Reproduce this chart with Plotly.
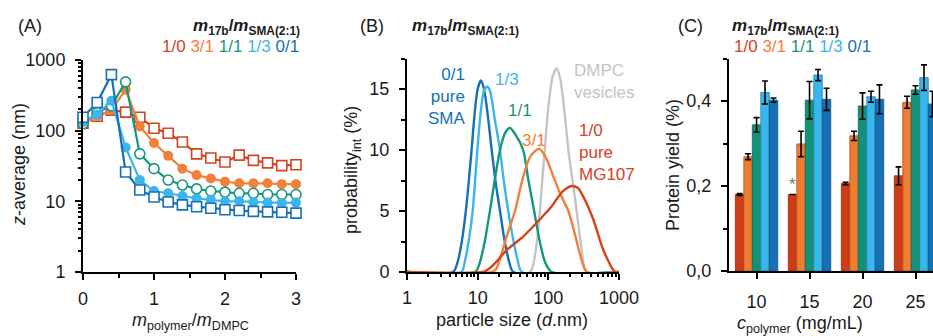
import plotly.graph_objects as go

W, H = 933, 336
FONT = "Arial, Liberation Sans, sans-serif"

# ---------------- Panel A data ----------------
ratio_A = [0.0, 0.2, 0.4, 0.6, 0.8, 1.0, 1.2, 1.4, 1.6, 1.8, 2.0, 2.2, 2.4, 2.6, 2.8, 3.0]
zavg_10 = [128, 160, 195, 183, 155, 108, 92, 69, 47, 41, 36, 45, 38, 35, 32, 33]
zavg_31 = [125, 160, 195, 380, 115, 67, 44, 29, 23.5, 21, 19, 18, 18, 18, 17.5, 17.5]
zavg_11 = [125, 180, 225, 490, 47, 29, 20, 17, 15, 14, 13.5, 13, 13, 12.5, 12.5, 12.5]
zavg_13 = [133, 170, 265, 58, 20, 14, 13, 11.9, 11, 10.5, 10, 10, 9.8, 9.6, 9.5, 9.6]
zavg_01 = [155, 250, 620, 26, 14.5, 11.5, 9.8, 8.9, 8.4, 8.0, 7.6, 7.4, 7.2, 7.1, 7.0, 6.8]

# ---------------- Panel B data ----------------
size_01 = [1, 4.5, 5.2, 6.0, 6.8, 7.5, 8.2, 9.0, 10.0, 11.1, 12.3, 13.8, 15.8, 18.0, 20.7, 24, 28, 32, 1000]
prob_01 = [0, 0, 0.8, 2.6, 5, 7.5, 10, 12.8, 15, 15.7, 15, 13, 10, 7.3, 5, 2.6, 0.8, 0, 0]
size_13 = [1, 5.9, 6.6, 7.5, 8.5, 9.2, 9.9, 11, 12.3, 13.7, 15, 17.5, 20.7, 23.5, 27.1, 32, 37, 42, 1000]
prob_13 = [0, 0, 0.9, 2.6, 5, 7.5, 10, 13, 14.9, 15.2, 14.8, 12.5, 10, 7.4, 5, 2.6, 0.9, 0, 0]
size_11 = [1, 9.2, 10.5, 12.5, 14.9, 17.5, 20.7, 24.5, 28.6, 34, 44, 52, 63, 75, 90, 112, 1000]
prob_11 = [0, 0, 0.6, 2.4, 5, 7.6, 10, 11.4, 11.8, 11.3, 10, 7.6, 5, 2.6, 0.8, 0, 0]
size_31 = [1, 16, 18.5, 21, 26, 33.8, 44, 56, 74, 92, 115, 145, 192, 240, 295, 350, 1000]
prob_31 = [0, 0, 0.3, 1.2, 3.0, 5.0, 7.8, 9.5, 10.1, 9.4, 8.0, 6.5, 5.0, 3.0, 1.0, 0, 0]
size_10 = [1, 12, 14, 18.5, 25.7, 44, 70, 105, 160, 213, 260, 311, 433, 600, 830, 900, 1000]
prob_10 = [0, 0, 0.2, 0.85, 1.8, 2.9, 4.1, 5.2, 6.6, 7.05, 6.9, 6.2, 4.3, 1.8, 0.16, 0, 0]
size_dm = [1, 55, 62, 70, 76, 82, 89, 100, 115, 131, 148, 170, 192, 220, 252, 290, 350, 1000]
prob_dm = [0, 0, 0.8, 2.8, 5, 7.5, 10, 13.5, 16, 16.7, 15.8, 13, 10, 7.5, 5, 2.2, 0, 0]

# ---------------- Panel C data ----------------
c_polymer = [10, 15, 20, 25]
yield_10 = [0.180, 0.180, 0.206, 0.224]
err_10 = [0.002, None, 0.003, 0.021]
yield_31 = [0.269, 0.299, 0.318, 0.397]
err_31 = [0.007, 0.030, 0.011, 0.014]
yield_11 = [0.344, 0.402, 0.388, 0.426]
err_11 = [0.017, 0.044, 0.031, 0.010]
yield_13 = [0.420, 0.461, 0.410, 0.455]
err_13 = [0.027, 0.013, 0.013, 0.030]
yield_01 = [0.402, 0.404, 0.404, 0.393]
err_01 = [0.005, 0.026, 0.034, 0.030]

ratio_labels = ["1/0", "3/1", "1/1", "1/3", "0/1"]

# colours
C_RED, C_ORA, C_GRN, C_LBL, C_DBL = "#d4421e", "#f0803a", "#15977d", "#3cb6ea", "#1670b5"
C_GRY = "#c4c4c4"
BAR_COLS = ["#cf3b14", "#ef7c30", "#13927a", "#39b6ec", "#1570b5"]
BAR_EDGE = ["#8e2a0e", "#a9561f", "#0d6655", "#2680a6", "#0e4e80"]


def px_x(p):
    return p / W


def px_y(p):
    return 1 - p / H


fig = go.Figure()

# ---------------- Panel A traces ----------------
specA = [
    (zavg_10, C_RED, "square", True),
    (zavg_31, C_ORA, "circle", False),
    (zavg_11, C_GRN, "circle", True),
    (zavg_13, C_LBL, "circle", False),
    (zavg_01, C_DBL, "square", True),
]
for vals, col, sym, hollow in specA:
    fig.add_trace(go.Scatter(
        x=ratio_A, y=vals, mode="lines+markers", xaxis="x", yaxis="y",
        line=dict(color=col, width=2.2),
        marker=dict(symbol=sym, size=10,
                    color="white" if hollow else col,
                    line=dict(color=col, width=1.6 if hollow else 0)),
        cliponaxis=False, showlegend=False))

# ---------------- Panel B traces ----------------
specB = [
    (size_dm, prob_dm, C_GRY),
    (size_01, prob_01, C_DBL),
    (size_13, prob_13, C_LBL),
    (size_11, prob_11, C_GRN),
    (size_31, prob_31, C_ORA),
    (size_10, prob_10, C_RED),
]
for xs, ys, col in specB:
    fig.add_trace(go.Scatter(
        x=xs, y=ys, mode="lines", xaxis="x2", yaxis="y2",
        line=dict(color=col, width=2.4, shape="spline", smoothing=0.7),
        showlegend=False))

# ---------------- Panel C traces ----------------
specC = [(yield_10, err_10), (yield_31, err_31), (yield_11, err_11),
         (yield_13, err_13), (yield_01, err_01)]
for i, (vals, errs) in enumerate(specC):
    fig.add_trace(go.Bar(
        x=c_polymer, y=vals, xaxis="x3", yaxis="y3", name=ratio_labels[i],
        marker=dict(color=BAR_COLS[i], line=dict(color=BAR_EDGE[i], width=0.8)),
        error_y=dict(type="data", array=errs, visible=True, color="black",
                     thickness=1.6, width=3),
        showlegend=False))

axis_common = dict(showline=True, linecolor="black", linewidth=2, ticks="outside",
                   tickcolor="black", tickwidth=2, ticklen=6, showgrid=False, zeroline=False,
                   tickfont=dict(family=FONT, size=18, color="#1a1a1a"))

minor_log = [2, 3, 4, 5, 6, 7, 8, 9, 20, 30, 40, 50, 60, 70, 80, 90, 200, 300, 400, 500, 600, 700, 800, 900]

fig.update_layout(
    width=W, height=H, margin=dict(l=0, r=0, t=0, b=0, autoexpand=False),
    paper_bgcolor="white", plot_bgcolor="white",
    font=dict(family=FONT, size=17, color="#1a1a1a"),
    barmode="group", bargap=0.2, bargroupgap=0.0,
    xaxis=dict(domain=[px_x(83), px_x(296)], range=[0, 3], anchor="y",
               tickvals=[0, 1, 2, 3], ticklabelstandoff=3,
               minor=dict(tickvals=[0.5, 1.5, 2.5], ticks="outside", ticklen=4,
                          tickcolor="black", tickwidth=1.5),
               **axis_common),
    yaxis=dict(domain=[px_y(272), px_y(60)], type="log", range=[0, 3], anchor="x",
               tickvals=[1, 10, 100, 1000], ticktext=["1", "10", "100", "1000"],
               ticklabelstandoff=6,
               minor=dict(tickvals=minor_log, ticks="outside", ticklen=3,
                          tickcolor="black", tickwidth=1.5),
               **axis_common),
    xaxis2=dict(domain=[px_x(407), px_x(619)], type="log", range=[0, 3], anchor="y2",
                tickvals=[1, 10, 100, 1000], ticktext=["1", "10", "100", "1000"],
                ticklabelstandoff=2,
                minor=dict(tickvals=minor_log, ticks="outside", ticklen=3,
                           tickcolor="black", tickwidth=1.5),
                **axis_common),
    yaxis2=dict(domain=[px_y(272), px_y(58.5)], range=[0, 17.5], anchor="x2",
                tickvals=[0, 5, 10, 15], ticklabelstandoff=6,
                minor=dict(tickvals=[2.5, 7.5, 12.5, 17.5], ticks="outside", ticklen=4,
                           tickcolor="black", tickwidth=1.5),
                **axis_common),
    xaxis3=dict(domain=[px_x(729), 1.0], range=[7.4, 26.65], anchor="y3",
                tickvals=[10, 15, 20, 25], ticklabelstandoff=7,
                **axis_common),
    yaxis3=dict(domain=[px_y(271), px_y(58.5)], range=[0, 0.5], anchor="x3",
                tickvals=[0, 0.2, 0.4], ticktext=["0,0", "0,2", "0,4"],
                ticklabelstandoff=6,
                minor=dict(tickvals=[0.1, 0.3, 0.5], ticks="outside", ticklen=4,
                           tickcolor="black", tickwidth=1.5),
                **axis_common),
)


def note(text, x, y, size=17, color="#1a1a1a", xanchor="center", yanchor="middle",
         angle=0, align="center"):
    fig.add_annotation(text=text, x=px_x(x), y=px_y(y), xref="paper", yref="paper",
                       showarrow=False, xanchor=xanchor, yanchor=yanchor, textangle=angle,
                       align=align, font=dict(family=FONT, size=size, color=color))


title_txt = ("<b><i>m</i><sub>17b</sub>/<i>m</i><sub>SMA(2:1)</sub></b>")
cols5 = [C_RED, C_ORA, C_GRN, C_LBL, C_DBL]
legend_txt = " ".join(f"<span style='color:{c}'>{t}</span>" for c, t in zip(cols5, ratio_labels))

# Panel labels
note("(A)", 30, 26, size=18)
note("(B)", 372, 26, size=18)
note("(C)", 690, 26, size=18)

# Panel A header
note(title_txt, 302, 27, size=17, xanchor="right")
note(legend_txt, 301, 47, size=17, xanchor="right")
# Panel B header
note(title_txt, 410, 27, size=17, xanchor="left")
# Panel C header
note(title_txt, 730, 27, size=17, xanchor="left")
note(legend_txt, 732, 47, size=17, xanchor="left")

# Axis titles
note("<i>z</i>-average (nm)", 19, 165, size=18, angle=-90)
note("<i>m</i><sub>polymer</sub>/<i>m</i><sub>DMPC</sub>", 190, 321, size=18)
note("probability<sub>int</sub> (%)", 352, 170, size=18, angle=-90)
note("particle size (<i>d</i>.nm)", 512, 320, size=18)
note("Protein yield (%)", 673, 165, size=18, angle=-90)
note("<i>c</i><sub>polymer</sub> (mg/mL)", 800, 324, size=18)

# Panel B curve labels
note("0/1<br>pure<br>SMA", 468, 97, size=17, color=C_DBL, xanchor="right", align="right")
note("1/3", 507, 79, size=17, color=C_LBL)
note("1/1", 520, 111, size=17, color=C_GRN)
note("3/1", 534, 140, size=17, color=C_ORA)
note("DMPC<br>vesicles", 572, 81, size=17, color=C_GRY, xanchor="left", align="left")
note("1/0<br>pure<br>MG107", 577, 153, size=17, color=C_RED, xanchor="left", align="left")

# asterisk above the 15 mg/mL red bar
fig.add_annotation(text="*", x=15 - 1.6, y=0.18, xref="x3", yref="y3", showarrow=False,
                   yanchor="bottom", yshift=-2, font=dict(family=FONT, size=17, color="#777777"))

fig.write_html(
    "out.html",
    post_script=("document.documentElement.style.margin='0';"
                 "document.body.style.margin='0';"
                 "document.body.style.overflow='hidden';"
                 "document.documentElement.style.overflow='hidden';"),
)
